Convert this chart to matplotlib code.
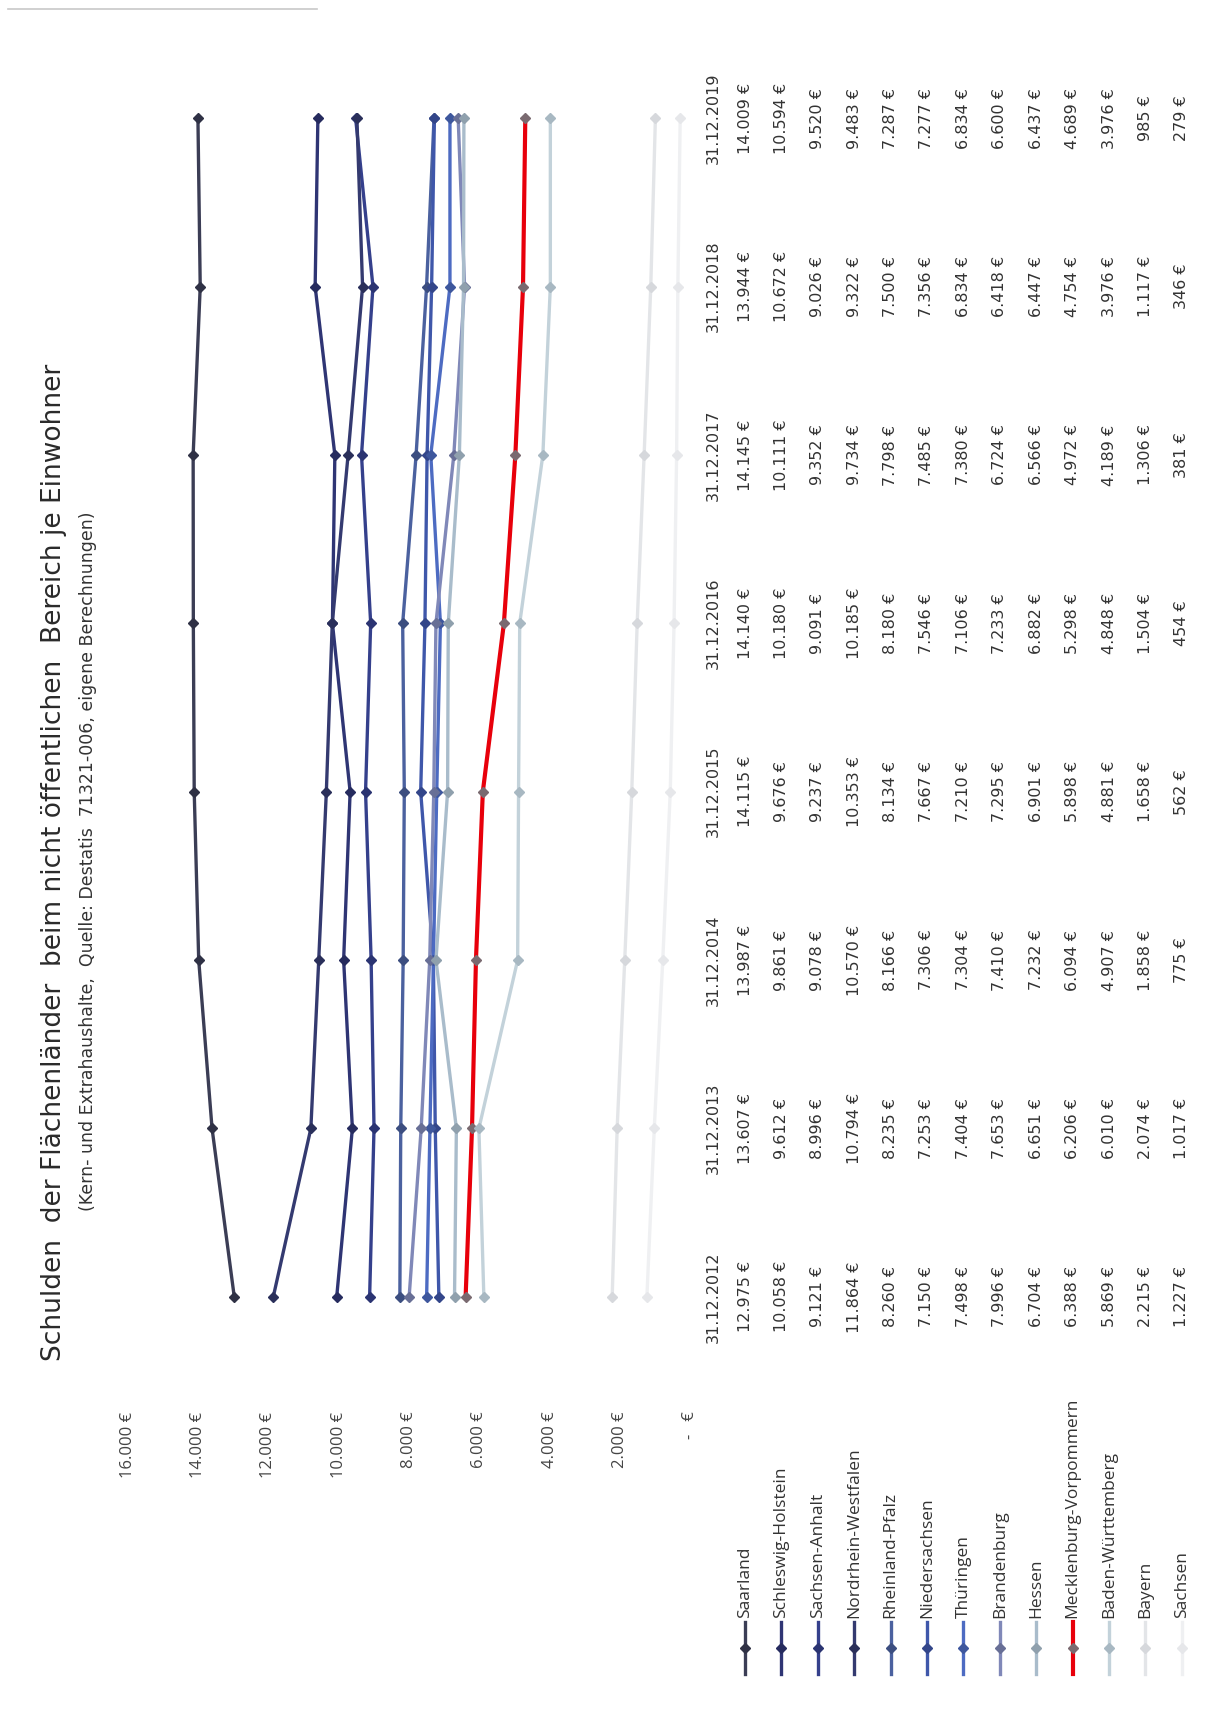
import matplotlib
matplotlib.use("Agg")
import matplotlib.pyplot as plt
from matplotlib.transforms import blended_transform_factory
from matplotlib.lines import Line2D

# Stichtage (Spalten der Datentabelle)
dates = ["31.12.2012", "31.12.2013", "31.12.2014", "31.12.2015",
         "31.12.2016", "31.12.2017", "31.12.2018", "31.12.2019"]

states = ["Saarland", "Schleswig-Holstein", "Sachsen-Anhalt", "Nordrhein-Westfalen",
          "Rheinland-Pfalz", "Niedersachsen", "Thüringen", "Brandenburg", "Hessen",
          "Mecklenburg-Vorpommern", "Baden-Württemberg", "Bayern", "Sachsen"]

# Schulden je Einwohner in Euro
saarland = [12975, 13607, 13987, 14115, 14140, 14145, 13944, 14009]
schleswig_holstein = [10058, 9612, 9861, 9676, 10180, 10111, 10672, 10594]
sachsen_anhalt = [9121, 8996, 9078, 9237, 9091, 9352, 9026, 9520]
nordrhein_westfalen = [11864, 10794, 10570, 10353, 10185, 9734, 9322, 9483]
rheinland_pfalz = [8260, 8235, 8166, 8134, 8180, 7798, 7500, 7287]
niedersachsen = [7150, 7253, 7306, 7667, 7546, 7485, 7356, 7277]
thueringen = [7498, 7404, 7304, 7210, 7106, 7380, 6834, 6834]
brandenburg = [7996, 7653, 7410, 7295, 7233, 6724, 6418, 6600]
hessen = [6704, 6651, 7232, 6901, 6882, 6566, 6447, 6437]
mecklenburg_vorpommern = [6388, 6206, 6094, 5898, 5298, 4972, 4754, 4689]
baden_wuerttemberg = [5869, 6010, 4907, 4881, 4848, 4189, 3976, 3976]
bayern = [2215, 2074, 1858, 1658, 1504, 1306, 1117, 985]
sachsen = [1227, 1017, 775, 562, 454, 381, 346, 279]

series = [saarland, schleswig_holstein, sachsen_anhalt, nordrhein_westfalen,
          rheinland_pfalz, niedersachsen, thueringen, brandenburg, hessen,
          mecklenburg_vorpommern, baden_wuerttemberg, bayern, sachsen]

colors = ["#3b3d55", "#2f3574", "#35408c", "#343a70", "#4b619f", "#3f57aa",
          "#4d6bc2", "#8088b8", "#a9bccb", "#e8000b", "#c3d2da", "#e3e5e8", "#eff0f2"]
marker_colors = ["#2f3145", "#262b5e", "#2b3472", "#2a2f5a", "#3c4e80", "#33468a",
                 "#3e579d", "#686f96", "#8fa0ad", "#7a6a70", "#a8b8c2", "#d6d8dc", "#e6e7ea"]

value_ticks = [0, 2000, 4000, 6000, 8000, 10000, 12000, 14000, 16000]

title = "Schulden  der Flächenländer  beim nicht öffentlichen  Bereich je Einwohner"
subtitle = "(Kern- und Extrahaushalte,  Quelle: Destatis  71321-006, eigene Berechnungen)"

W, H = 1208, 1709
fig = plt.figure(figsize=(W / 100, H / 100), dpi=100)
fig.patch.set_facecolor("white")

NARROW = ["Liberation Sans Narrow", "DejaVu Sans"]
SANS = ["Open Sans", "DejaVu Sans"]


def fx(px):
    return px / W


def fy(py):
    return 1 - py / H


# Diagrammfläche: Werte waagrecht (nach links steigend), Stichtage senkrecht
top, bottom = 34, 1381
ax = fig.add_axes([fx(128), fy(bottom), fx(690) - fx(128), (bottom - top) / H])
ax.set_xlim(16000, 0)
ax.set_ylim(-0.5, len(dates) - 0.5)
for s in ax.spines.values():
    s.set_visible(False)
ax.set_yticks([])


def euro(v):
    if v == 0:
        return "-   €"
    return f"{v:,}".replace(",", ".") + " €"


ax.set_xticks(value_ticks)
ax.set_xticklabels([euro(v) for v in value_ticks], family=SANS, fontsize=12,
                   color="#444444")
ax.tick_params(axis="x", length=0, pad=22, labelrotation=90)

ypos = list(range(len(dates)))
for vals, c, mc, name in zip(series, colors, marker_colors, states):
    lw = 3.0 if name == "Mecklenburg-Vorpommern" else 2.4
    ax.plot(vals, ypos, color=c, lw=lw, marker="D", markersize=5,
            markerfacecolor=mc, markeredgecolor=mc, solid_capstyle="round",
            clip_on=False, zorder=3)

# Datentabelle rechts neben der Diagrammfläche
trans = blended_transform_factory(fig.transFigure, ax.transData)
col_x = [745 + 36.4 * i for i in range(len(states))]
for j, d in enumerate(dates):
    ax.text(fx(713), j, d, transform=trans, rotation=90, ha="center", va="center",
            family=NARROW, fontsize=11.5, color="#333333", clip_on=False)
    for i, vals in enumerate(series):
        ax.text(fx(col_x[i]), j, euro(vals[j]), transform=trans, rotation=90,
                ha="center", va="center", family=NARROW, fontsize=11.5,
                color="#333333", clip_on=False)

# Legendenschlüssel unter der Tabelle
for i, (name, c, mc) in enumerate(zip(states, colors, marker_colors)):
    x = fx(col_x[i])
    lw = 3.0 if name == "Mecklenburg-Vorpommern" else 2.4
    fig.add_artist(Line2D([x, x], [fy(1674), fy(1622)], color=c, lw=lw))
    fig.add_artist(Line2D([x], [fy(1648)], marker="D", markersize=5,
                          markerfacecolor=mc, markeredgecolor=mc, lw=0))
    fig.text(x, fy(1618), name, rotation=90, ha="center", va="bottom",
             family=SANS, fontsize=12.5, color="#333333")

# Überschrift
fig.text(fx(54), fy(862), title, rotation=90, ha="center", va="center",
         family=NARROW, fontsize=19, color="#2a2a2a")
fig.text(fx(88), fy(861), subtitle, rotation=90, ha="center", va="center",
         family=NARROW, fontsize=12.5, color="#333333")

# Blattkante oben links
fig.add_artist(Line2D([fx(8), fx(317)], [fy(9), fy(9)], color="#c8c8c8", lw=1.2))

fig.savefig("out.png", dpi=100, facecolor=fig.get_facecolor())
